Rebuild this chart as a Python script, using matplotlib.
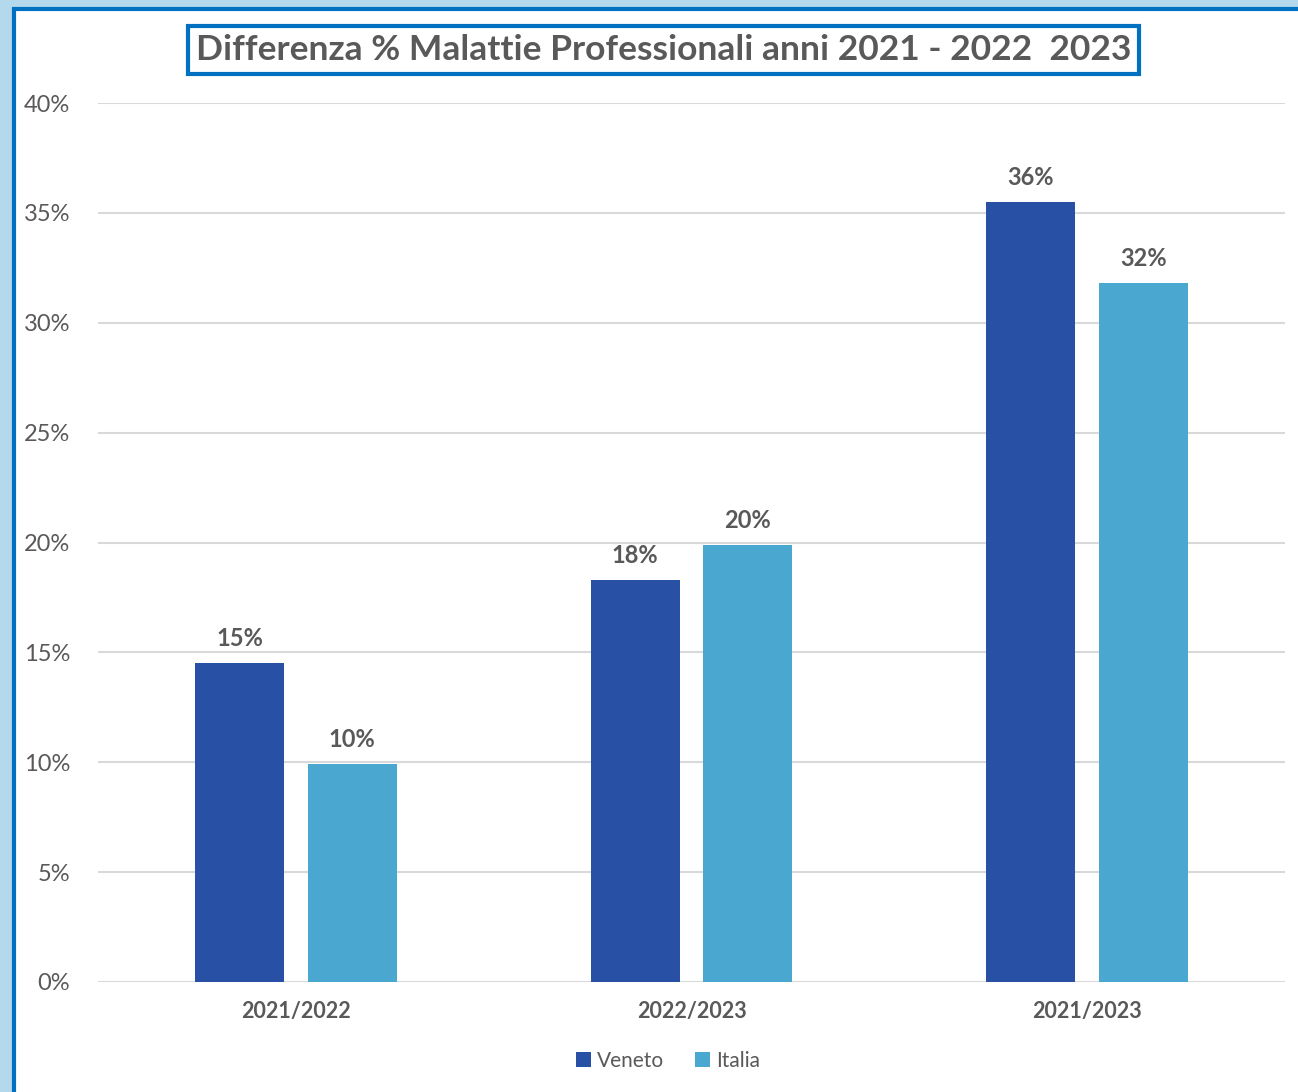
import numpy as np
import matplotlib.pyplot as plt
from matplotlib.patches import Rectangle
from matplotlib.ticker import FuncFormatter

categories = ['2021/2022', '2022/2023', '2021/2023']
veneto = [0.145, 0.183, 0.355]
italia = [0.099, 0.199, 0.318]
veneto_labels = ['15%', '18%', '36%']
italia_labels = ['10%', '20%', '32%']

c_veneto = '#2850A5'
c_italia = '#4AA8D0'
grey = '#595959'

plt.rcParams['font.family'] = ['Lato', 'DejaVu Sans']

fig = plt.figure(figsize=(12.98, 10.92), dpi=100)
fig.patch.set_facecolor('#B4D8EC')

# white panel with blue border
panel = Rectangle((13.5 / 1298, -0.05), 1.1, 1 - 9.5 / 1092 + 0.05,
                  transform=fig.transFigure, facecolor='white',
                  edgecolor='#0070C0', linewidth=3, zorder=-10)
fig.patches.append(panel)

ax = fig.add_axes([98 / 1298, 1 - 982 / 1092, (1285 - 98) / 1298, (982 - 103) / 1092])
ax.set_facecolor('none')

x = np.arange(len(categories))
w = 0.225
off = 0.1425
b1 = ax.bar(x - off, veneto, w, color=c_veneto, label='Veneto', zorder=3)
b2 = ax.bar(x + off, italia, w, color=c_italia, label='Italia', zorder=3)

for bars, labs in [(b1, veneto_labels), (b2, italia_labels)]:
    for b, t in zip(bars, labs):
        ax.text(b.get_x() + b.get_width() / 2, b.get_height() + 0.006, t,
                ha='center', va='bottom', fontsize=17, fontweight='bold', color=grey)

ax.set_xlim(-0.5, 2.5)
ax.set_ylim(0, 0.40)
ax.set_yticks(np.arange(0, 0.41, 0.05))
ax.yaxis.set_major_formatter(FuncFormatter(lambda v, p: f'{v * 100:.0f}%'))
ax.set_xticks(x)
ax.set_xticklabels(categories, fontsize=15.5, fontweight='bold', color=grey)
ax.tick_params(axis='y', labelsize=17, labelcolor=grey, length=0, pad=20)
ax.tick_params(axis='x', length=0, pad=14)
ax.grid(axis='y', color='#D9D9D9', linewidth=1.5, zorder=0)
for s in ax.spines.values():
    s.set_visible(False)

fig.text(0.511, 1 - 50 / 1092, 'Differenza % Malattie Professionali anni 2021 - 2022  2023',
         ha='center', va='center', fontsize=25.5, fontweight='bold', color=grey,
         bbox=dict(boxstyle='square,pad=0.22', facecolor='white', edgecolor='#0070C0', linewidth=3))

ax.legend(loc='center', bbox_to_anchor=(668 / 1298, 1 - 1061 / 1092),
          bbox_transform=fig.transFigure, ncol=2, frameon=False,
          fontsize=15, handlelength=0.7, handleheight=0.7, handletextpad=0.3,
          columnspacing=1.5, labelcolor=grey)

fig.savefig('out.png', dpi=100)
